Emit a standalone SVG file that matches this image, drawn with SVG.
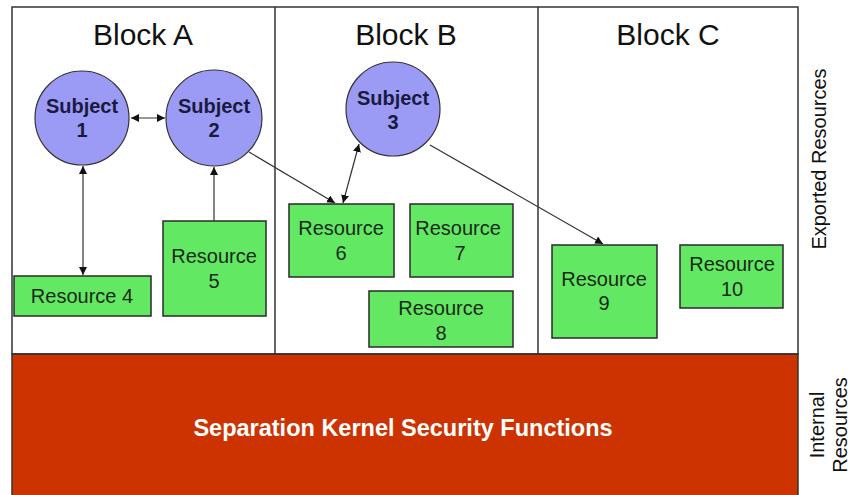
<svg xmlns="http://www.w3.org/2000/svg" width="851" height="495" viewBox="0 0 851 495">
<style>
.frame{fill:none;stroke:#333;stroke-width:1.5}
.title{font-family:"Liberation Sans",Arial,sans-serif;font-size:30px;fill:#111;text-anchor:middle}
.subj circle{fill:#9b9bf5;stroke:#333;stroke-width:1.2}
.subj text{font-family:"Liberation Sans",Arial,sans-serif;font-size:20px;font-weight:bold;fill:#1a1a40;text-anchor:middle}
.res rect{fill:#62e862;stroke:#2a2a2a;stroke-width:1.5}
.res text{font-family:"Liberation Sans",Arial,sans-serif;font-size:20px;fill:#1a2a1a;text-anchor:middle}
.side{font-family:"Liberation Sans",Arial,sans-serif;font-size:20px;fill:#111;text-anchor:middle}
.conn line{stroke:#333;stroke-width:1.2}
</style>
<defs>
<marker id="ah" viewBox="0 0 10 10" refX="10" refY="5" markerWidth="8" markerHeight="8" markerUnits="userSpaceOnUse" orient="auto-start-reverse">
<path d="M0,0 L10,5 L0,10 z" fill="#111"/>
</marker>
</defs>
<rect x="0" y="0" width="851" height="495" fill="#fff"/>
<g id="kernel">
<rect x="12" y="354" width="786" height="145" fill="#cc3300" stroke="#333" stroke-width="1.5"/>
<text x="403" y="436" font-family="Liberation Sans,Arial,sans-serif" font-size="23.5" font-weight="bold" fill="#fff" text-anchor="middle">Separation Kernel Security Functions</text>
</g>
<g id="blocks">
<rect class="frame" x="12" y="7" width="786" height="347"/>
<line x1="275" y1="7" x2="275" y2="354" stroke="#333" stroke-width="1.5"/>
<line x1="538" y1="7" x2="538" y2="354" stroke="#333" stroke-width="1.5"/>
<text class="title" x="143" y="45">Block A</text>
<text class="title" x="406" y="45">Block B</text>
<text class="title" x="668" y="45">Block C</text>
</g>
<g id="labels">
<text class="side" transform="translate(826,159) rotate(-90)" font-size="21">Exported Resources</text>
<text class="side" transform="translate(824,425) rotate(-90)">Internal</text>
<text class="side" transform="translate(847,425) rotate(-90)">Resources</text>
</g>
<g id="subject1" class="subj"><circle cx="82" cy="118" r="47"/><text x="82" y="113">Subject</text><text x="82" y="137">1</text></g>
<g id="subject2" class="subj"><circle cx="214" cy="118" r="48"/><text x="214" y="113">Subject</text><text x="214" y="137">2</text></g>
<g id="subject3" class="subj"><circle cx="393" cy="109" r="47"/><text x="393" y="105">Subject</text><text x="393" y="129">3</text></g>
<g id="resource4" class="res"><rect x="14" y="276" width="137" height="40"/><text x="82" y="303">Resource 4</text></g>
<g id="resource5" class="res"><rect x="163" y="221" width="103" height="95"/><text x="214" y="263">Resource</text><text x="214" y="288">5</text></g>
<g id="resource6" class="res"><rect x="289" y="204" width="105" height="73"/><text x="341" y="235">Resource</text><text x="341" y="260">6</text></g>
<g id="resource7" class="res"><rect x="410" y="204" width="103" height="73"/><text x="458" y="235">Resource</text><text x="460" y="260">7</text></g>
<g id="resource8" class="res"><rect x="369" y="291" width="144" height="56"/><text x="441" y="315">Resource</text><text x="441" y="340">8</text></g>
<g id="resource9" class="res"><rect x="552" y="245" width="105" height="93"/><text x="604" y="286">Resource</text><text x="604" y="310">9</text></g>
<g id="resource10" class="res"><rect x="680" y="245" width="103" height="63"/><text x="732" y="271">Resource</text><text x="732" y="296">10</text></g>
<g id="connectors" class="conn">
<line x1="131" y1="118" x2="165" y2="118" marker-start="url(#ah)" marker-end="url(#ah)"/>
<line x1="83" y1="166" x2="83" y2="275" marker-start="url(#ah)" marker-end="url(#ah)"/>
<line x1="214" y1="221" x2="214" y2="167" marker-end="url(#ah)"/>
<line x1="249" y1="152" x2="335" y2="203" marker-end="url(#ah)"/>
<line x1="359" y1="144" x2="343" y2="203" marker-start="url(#ah)" marker-end="url(#ah)"/>
<line x1="430" y1="145" x2="603" y2="244" marker-end="url(#ah)"/>
</g>
</svg>
